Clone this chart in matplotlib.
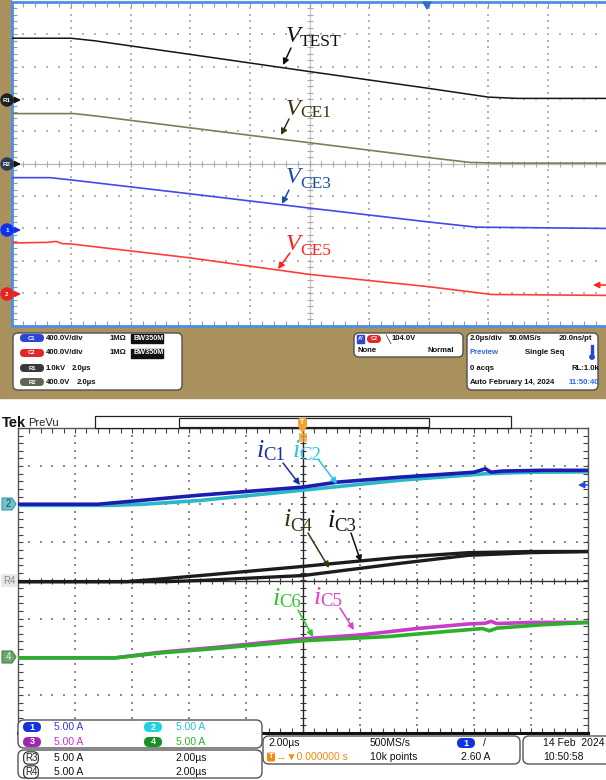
import numpy as np
import matplotlib
matplotlib.use('Agg')
import matplotlib.pyplot as plt
from matplotlib.patches import Rectangle, FancyBboxPatch, Circle, Polygon

plt.rcParams['font.family'] = ['Liberation Sans', 'DejaVu Sans']

W, H = 606, 780

#===== top scope traces, in screen divisions (10 x 10 grid)
vtest_x = [0, 1.0, 1.4, 3.0, 5.0, 7.0, 8.0, 8.5, 10]
vtest_y = [8.88, 8.88, 8.80, 8.38, 7.85, 7.33, 7.06, 7.02, 7.02]
vce1_x = [0, 1.05, 1.4, 3.0, 5.0, 7.0, 7.7, 8.2, 10]
vce1_y = [6.55, 6.55, 6.48, 6.11, 5.65, 5.19, 5.04, 5.02, 5.02]
vce3_x = [0, 0.65, 1.0, 3.0, 5.0, 7.0, 7.8, 10]
vce3_y = [4.57, 4.57, 4.50, 4.07, 3.63, 3.20, 3.04, 3.00]
vce5_x = [0, 0.6, 0.75, 0.85, 1.0, 3.0, 5.0, 7.0, 8.05, 10]
vce5_y = [2.55, 2.57, 2.60, 2.53, 2.52, 2.09, 1.58, 1.20, 0.96, 0.93]

#===== bottom scope traces, in screen divisions (10 x 8 grid, centre = 0)
ic1_x = [0, 1.4, 2.0, 3.2, 5.0, 5.6, 6.7, 8.0, 8.2, 8.3, 8.5, 9.2, 10]
ic1_y = [2.0, 2.0, 2.08, 2.24, 2.45, 2.58, 2.71, 2.84, 2.93, 2.84, 2.87, 2.89, 2.89]
ic2_x = [0, 1.6, 2.2, 3.2, 5.0, 6.7, 8.2, 9.0, 10]
ic2_y = [1.97, 1.97, 2.0, 2.1, 2.37, 2.63, 2.80, 2.84, 2.85]
ic3_x = [0, 1.9, 2.5, 3.2, 5.0, 6.7, 7.9, 9.0, 10]
ic3_y = [-0.03, -0.03, 0.04, 0.13, 0.37, 0.61, 0.73, 0.76, 0.76]
ic4_x = [0, 2.6, 3.2, 5.0, 6.7, 7.9, 9.0, 10]
ic4_y = [-0.03, -0.03, 0.0, 0.13, 0.45, 0.66, 0.73, 0.76]
ic5_x = [0, 1.7, 2.5, 3.5, 5.0, 6.0, 7.0, 7.9, 8.2, 8.3, 8.4, 9.0, 10]
ic5_y = [-2.03, -2.03, -1.88, -1.75, -1.53, -1.43, -1.26, -1.14, -1.12, -1.07, -1.13, -1.10, -1.10]
ic6_x = [0, 1.7, 2.5, 3.5, 5.0, 6.5, 7.5, 8.15, 8.27, 8.4, 9.2, 10]
ic6_y = [-2.03, -2.03, -1.9, -1.78, -1.58, -1.47, -1.34, -1.26, -1.32, -1.25, -1.16, -1.10]

BEIGE = '#a8915c'
SCOPE_BLUE = '#4b8fe6'

fig = plt.figure(figsize=(W / 100, H / 100), dpi=100)
fig.patch.set_facecolor('white')


def axpos(x0, y0, x1, y1):
    # pixel box (from top-left) -> figure fraction
    return [x0 / W, 1 - y1 / H, (x1 - x0) / W, (y1 - y0) / H]


#===== background
bg = fig.add_axes([0, 0, 1, 1], zorder=0)
bg.set_xlim(0, W)
bg.set_ylim(H, 0)
bg.axis('off')
bg.add_patch(Rectangle((0, 0), 11, 326, color=BEIGE))
bg.add_patch(Rectangle((0, 326), W, 72, color=BEIGE))


def dot_grid(ax, xlines, ylines, x0, x1, y0, y1, color, size):
    for xv in xlines:
        ys = np.arange(y0, y1 + 1e-9, 0.2)
        ax.scatter(np.full(len(ys), xv), ys, s=size, c=color, marker='s', lw=0, zorder=1)
    for yv in ylines:
        xs = np.arange(x0, x1 + 1e-9, 0.2)
        ax.scatter(xs, np.full(len(xs), yv), s=size, c=color, marker='s', lw=0, zorder=1)


def tick_row(ax, xs, ys, marker, color, ms):
    ax.plot(xs, ys, ls='none', marker=marker, ms=ms, mew=0.8, color=color, zorder=2)


#===== top scope
ax1 = fig.add_axes(axpos(11.5, 2, 607.5, 325.5), zorder=1)
ax1.set_xlim(0, 10)
ax1.set_ylim(0, 10)
ax1.set_xticks([])
ax1.set_yticks([])
for s in ax1.spines.values():
    s.set_color(SCOPE_BLUE)
    s.set_linewidth(2)

dot_grid(ax1, [1, 2, 3, 4, 6, 7, 8, 9], [1, 2, 3, 4, 6, 7, 8, 9], 0, 10, 0, 10, '#b4b4b4', 1.3)
ax1.axhline(5, color='#b8b8b8', lw=0.9, zorder=1)
ax1.axvline(5, color='#c8c8c8', lw=0.9, zorder=1)
mx = np.arange(0, 10.01, 0.2)
my = np.arange(0, 10.01, 0.2)
tick_row(ax1, mx, np.full(len(mx), 10), '|', '#9a9a9a', 7)
tick_row(ax1, mx, np.full(len(mx), 0), '|', '#9a9a9a', 7)
tick_row(ax1, np.full(len(my), 0), my, '_', '#9a9a9a', 7)
tick_row(ax1, mx, np.full(len(mx), 5), '|', '#a8a8a8', 5)
tick_row(ax1, np.full(len(my), 5), my, '_', '#a8a8a8', 5)

ax1.plot(vtest_x, vtest_y, color='#151515', lw=1.1, zorder=3)
ax1.plot(vce1_x, vce1_y, color='#7c7c5e', lw=1.2, zorder=3)
ax1.plot(vce3_x, vce3_y, color='#4646ea', lw=1.2, zorder=3)
ax1.plot(vce5_x, vce5_y, color='#ff3c3c', lw=1.2, zorder=3)

#===== bottom scope
ax2 = fig.add_axes(axpos(18, 428, 588, 733), zorder=1)
ax2.set_xlim(0, 10)
ax2.set_ylim(-4, 4)
ax2.set_xticks([])
ax2.set_yticks([])
for s in ax2.spines.values():
    s.set_color('#555555')
    s.set_linewidth(1)
ax2.spines['bottom'].set_color('#111111')
ax2.spines['bottom'].set_linewidth(2.2)

dot_grid(ax2, [1, 2, 3, 4, 6, 7, 8, 9], [-3, -2, -1, 1, 2, 3], 0, 10, -4, 4, '#8a8a8a', 1.2)
ax2.axhline(0, color='#333333', lw=1.0, zorder=1)
ax2.axvline(5, color='#222222', lw=1.0, zorder=1)
by = np.arange(-4, 4.01, 0.2)
tick_row(ax2, mx, np.full(len(mx), 4), '|', '#444444', 7)
tick_row(ax2, mx, np.full(len(mx), -4), '|', '#444444', 7)
tick_row(ax2, np.full(len(by), 0), by, '_', '#444444', 7)
tick_row(ax2, np.full(len(by), 10), by, '_', '#444444', 7)
tick_row(ax2, mx, np.full(len(mx), 0), '|', '#333333', 5)
tick_row(ax2, np.full(len(by), 5), by, '_', '#333333', 5)

ax2.plot(ic2_x, ic2_y, color='#2ab8c8', lw=2.6, zorder=3)
ax2.plot(ic1_x, ic1_y, color='#1c1cb0', lw=2.6, zorder=4)
ax2.plot(ic4_x, ic4_y, color='#1c1c1c', lw=2.4, zorder=3)
ax2.plot(ic3_x, ic3_y, color='#1c1c1c', lw=2.4, zorder=3)
ax2.plot(ic5_x, ic5_y, color='#c83cc8', lw=2.6, zorder=3)
ax2.plot(ic6_x, ic6_y, color='#2ab02a', lw=2.6, zorder=4)

#===== overlay: labels, markers, readouts (pixel coordinates)
ov = fig.add_axes([0, 0, 1, 1], zorder=5)
ov.set_xlim(0, W)
ov.set_ylim(H, 0)
ov.axis('off')

SERIF = 'Liberation Serif'


def trace_label(x, yb, main, sub, xs, ysb, color, msize, ssize):
    ov.text(x, yb, main, family=SERIF, style='italic', fontsize=msize, color=color, va='baseline')
    ov.text(xs, ysb, sub, family=SERIF, fontsize=ssize, color=color, va='baseline')


def arrow(x0, y0, x1, y1, color):
    ov.annotate('', xy=(x1, y1), xytext=(x0, y0),
                arrowprops=dict(arrowstyle='-|>', color=color, lw=1.1, mutation_scale=9,
                                shrinkA=0, shrinkB=0))


# top scope labels
trace_label(286, 42, 'V', 'TEST', 300, 46, '#111111', 17.5, 12.5)
arrow(291, 48, 283, 65, '#111111')
trace_label(286, 115, 'V', 'CE1', 300, 117, '#3a3412', 17.5, 12.5)
arrow(289, 119, 281, 135, '#3a3412')
trace_label(286, 183, 'V', 'CE3', 300, 188, '#1f4ea0', 17.5, 12.5)
arrow(289, 190, 282, 204, '#1f4ea0')
trace_label(286, 250, 'V', 'CE5', 300, 255, '#ff2020', 17.5, 12.5)
arrow(290, 253, 278, 269, '#ff2020')

# bottom scope labels
trace_label(257, 457, 'i', 'C1', 263, 460, '#1a2fa0', 19, 13.5)
arrow(283, 463, 300, 485, '#1a2fa0')
trace_label(293, 457, 'i', 'C2', 299, 460, '#2ec4e4', 19, 13.5)
arrow(318, 459, 337, 484, '#2ec4e4')
trace_label(284, 526, 'i', 'C4', 290, 531, '#3a3412', 19, 13.5)
arrow(308, 533, 329, 568, '#3a3412')
trace_label(328, 527, 'i', 'C3', 334, 531, '#111111', 19, 13.5)
arrow(351, 533, 361, 562, '#111111')
trace_label(273, 605, 'i', 'C6', 279, 607, '#2ec42e', 19, 13.5)
arrow(298, 610, 313, 637, '#2ec42e')
trace_label(314, 604, 'i', 'C5', 320, 606, '#e040c8', 19, 13.5)
arrow(340, 608, 354, 630, '#e040c8')

# top scope left markers
for yc, lab, fc, ac in [(100, 'R1', '#202020', '#111111'), (164, 'R2', '#2d3a55', '#111111'),
                        (230, '1', '#1030f0', '#1030f0'), (294, '2', '#e82020', '#e82020')]:
    ov.add_patch(Circle((7, yc), 6, color=fc, zorder=6))
    ov.text(7, yc, lab, fontsize=4.5, color='white', fontweight='bold', ha='center', va='center', zorder=7)
    arrow(13, yc, 21, yc, ac)
# red level arrow on the right, blue trigger mark on top
arrow(606, 285, 593, 285, '#ff2020')
ov.add_patch(Polygon([(423, 2), (431, 2), (427, 9)], color='#2f6fd8'))


def rbox(x0, y0, x1, y1, ec='#505050', lw=1.0, r=5, fc='white'):
    ov.add_patch(FancyBboxPatch((x0, y0), x1 - x0, y1 - y0,
                                boxstyle='round,pad=0,rounding_size=%g' % r,
                                fc=fc, ec=ec, lw=lw, zorder=3))


def pill(xc, yc, w, h, fc, lab, size, tc='white'):
    ov.add_patch(FancyBboxPatch((xc - w / 2, yc - h / 2), w, h,
                                boxstyle='round,pad=0,rounding_size=%g' % (h / 2),
                                fc=fc, ec='none', zorder=4))
    ov.text(xc, yc, lab, fontsize=size, color=tc, ha='center', va='center', zorder=5,
            fontweight='bold')


def txt(x, y, s, size=5.6, color='#111111', weight='bold', ha='left'):
    ov.text(x, y, s, fontsize=size, color=color, fontweight=weight, ha=ha, va='center', zorder=5)


# top scope readout panel
rbox(13, 333, 182, 390)
rbox(354, 333, 463, 357)
rbox(467, 333, 598, 390)

pill(32, 338, 24, 8, '#2a46d8', 'C1', 4.2)
txt(46, 338, '400.0V/div')
txt(110, 338, '1MΩ')
ov.add_patch(Rectangle((131, 333.5), 32, 9, color='#111111', zorder=4))
txt(133, 338, 'BW350M', size=5.2, color='white')
pill(32, 353, 24, 8, '#e02828', 'C2', 4.2)
txt(46, 353, '400.0V/div')
txt(110, 353, '1MΩ')
ov.add_patch(Rectangle((131, 348.5), 32, 9, color='#111111', zorder=4))
txt(133, 353, 'BW350M', size=5.2, color='white')
pill(32, 368, 24, 8, '#3a3a3a', 'R1', 4.2)
txt(46, 368, '1.0kV')
txt(72, 368, '2.0µs')
pill(32, 382, 24, 8, '#606650', 'R2', 4.2)
txt(46, 382, '400.0V')
txt(77, 382, '2.0µs')

ov.add_patch(Rectangle((357, 335), 7, 8, fc='#2a46d8', ec='#2a46d8', zorder=4))
txt(358, 339, "A'", size=4.5, color='white')
pill(374, 339, 14, 8, '#e02828', 'C2', 4.0)
txt(385, 339, '╲', size=6)
txt(392, 339, '104.0V')
txt(357, 351, 'None')
txt(428, 351, 'Normal')

txt(470, 338, '2.0µs/div')
txt(509, 338, '50.0MS/s')
txt(559, 338, '20.0ns/pt')
txt(470, 353, 'Preview', color='#2a6ae0')
txt(525, 353, 'Single Seq')
ov.add_patch(Rectangle((591, 345), 2, 11, color='#2a46d8', zorder=4))
ov.add_patch(Circle((592, 357), 2.2, color='#2a46d8', zorder=4))
txt(470, 368, '0 acqs')
txt(571, 368, 'RL:1.0k')
txt(470, 382, 'Auto')
txt(489, 382, 'February 14, 2024')
txt(569, 382, '11:50:40', color='#2a6ae0')

# bottom scope header
ov.text(2, 423, 'Tek', fontsize=10.5, fontweight='bold', va='center', color='#111111')
ov.text(28, 423, 'PreVu', fontsize=8, va='center', color='#222222')
ov.add_patch(Rectangle((95, 416), 416, 12, fc='white', ec='#222222', lw=0.9, zorder=2))
ov.add_patch(Rectangle((179, 417.5), 250, 9, fc='white', ec='#222222', lw=0.9, zorder=2))
ov.add_patch(FancyBboxPatch((298, 418), 9, 9, boxstyle='round,pad=0,rounding_size=2',
                            fc='#f5a030', ec='none', zorder=3))
ov.text(302.5, 422.5, 'T', fontsize=5, color='white', ha='center', va='center', zorder=4,
        fontweight='bold')
ov.add_patch(Polygon([(299, 427), (306, 427), (302.5, 432)], color='#f5a030', zorder=3))
ov.add_patch(FancyBboxPatch((299, 433), 8, 9, boxstyle='round,pad=0,rounding_size=1.5',
                            fc='#f5a030', ec='none', alpha=0.8, zorder=2))

# bottom scope left / right markers
ov.add_patch(Polygon([(2, 498), (12, 498), (16, 504), (12, 510), (2, 510)], fc='#6cc4cc',
                     ec='#4a90a8', lw=0.8, zorder=4))
ov.text(8, 504, '2', fontsize=7, color='#1a4a5a', ha='center', va='center', zorder=5)
ov.add_patch(Rectangle((1, 574), 16, 13, fc='#e8e8e8', ec='none', zorder=4))
ov.text(9, 581, 'R4', fontsize=7, color='#8a8a8a', ha='center', va='center', zorder=5)
ov.add_patch(Polygon([(2, 651), (12, 651), (16, 657), (12, 663), (2, 663)], fc='#6aa86a',
                     ec='#4a804a', lw=0.8, zorder=4))
ov.text(8, 657, '4', fontsize=7, color='#e8f0e8', ha='center', va='center', zorder=5)
arrow(588, 485, 578, 485, '#2a46e0')

# bottom readouts
rbox(18, 720, 262, 748, ec='#555555', r=6)
rbox(18, 750, 262, 778, ec='#555555', r=6)
rbox(263, 736, 520, 764, ec='#555555', r=6)
rbox(523, 736, 615, 764, ec='#555555', r=6)

pill(32, 727, 18, 10, '#1433e0', '1', 6.5)
txt(54, 727, '5.00 A', size=7.5, color='#3a3ad8', weight='normal')
pill(153, 727, 18, 10, '#22d0e2', '2', 6.5)
txt(176, 727, '5.00 A', size=7.5, color='#30bcdc', weight='normal')
pill(32, 742, 18, 10, '#a028b0', '3', 6.5)
txt(54, 742, '5.00 A', size=7.5, color='#d030c0', weight='normal')
pill(153, 742, 18, 10, '#139223', '4', 6.5)
txt(176, 742, '5.00 A', size=7.5, color='#30b030', weight='normal')
for yy, lab in [(758, 'R3'), (772, 'R4')]:
    ov.text(31, yy, lab, fontsize=7, color='#222222', ha='center', va='center', zorder=5,
            bbox=dict(boxstyle='round,pad=0.12,rounding_size=0.5', fc='white', ec='#222222', lw=0.8))
    txt(54, yy, '5.00 A', size=7.5, weight='normal')
    txt(175, yy, '2.00µs', size=7.5, weight='normal')

txt(268, 743, '2.00µs', size=7.5, weight='normal')
txt(370, 743, '500MS/s', size=7.5, weight='normal')
pill(466, 743, 18, 10, '#1433e0', '1', 6.5)
txt(483, 743, '/', size=7.5, weight='normal')
ov.add_patch(FancyBboxPatch((267, 752.5), 8, 9, boxstyle='round,pad=0,rounding_size=1.5',
                            fc='#f08a10', ec='none', zorder=4))
ov.text(271, 757, 'T', fontsize=5.5, color='white', ha='center', va='center', zorder=5,
        fontweight='bold')
txt(276, 757, '→▼0.000000 s', size=7.5, color='#f08a10', weight='normal')
txt(370, 757, '10k points', size=7.5, weight='normal')
txt(461, 757, '2.60 A', size=7.5, weight='normal')
txt(543, 743, '14 Feb  2024', size=7.5, weight='normal')
txt(543, 757, '10:50:58', size=7.5, weight='normal')

fig.savefig('out.png', dpi=100)
